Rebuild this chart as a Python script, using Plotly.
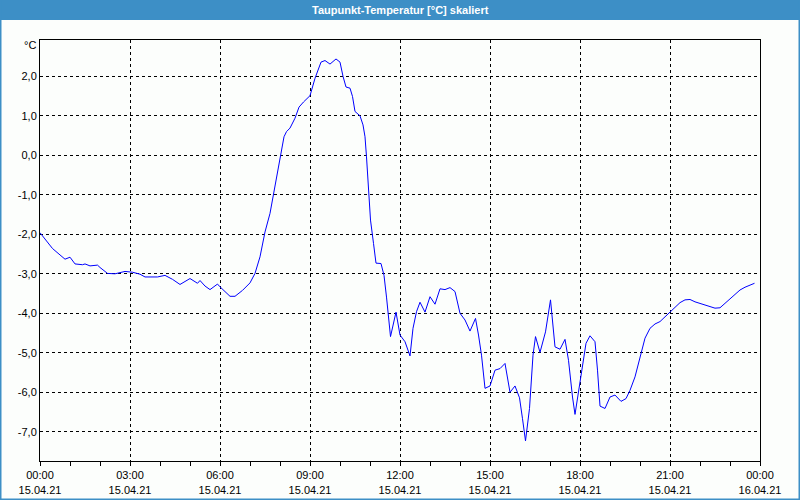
import pandas as pd
import plotly.graph_objects as go

# Taupunkt, 15.04.21 - minutes after midnight and value in degC
minutes = [0, 25, 50, 60, 70, 85, 90, 100, 115, 120, 135, 150, 170, 185, 200,
           210, 235, 250, 265, 280, 300, 315, 320, 330, 340, 355, 360, 380, 390,
           405, 420, 430, 440, 450, 460, 467, 475, 480, 488, 493, 500, 510, 518,
           527, 540, 550, 557, 562, 570, 580, 592, 600, 606, 612, 620, 625, 630,
           640, 646, 650, 653, 657, 661, 667, 672, 682, 688, 693, 701, 712, 720,
           730, 740, 746, 753, 760, 770, 780, 790, 800, 810, 820, 830, 840, 850,
           860, 871, 877, 883, 890, 900, 910, 920, 930, 935, 940, 950, 959, 965,
           971, 979, 986, 991, 1000, 1011, 1021, 1030, 1040,
           1050, 1057, 1065, 1070, 1076, 1083, 1092, 1100, 1110, 1115, 1120, 1130,
           1140, 1150, 1162, 1172, 1180, 1190, 1199, 1210, 1220, 1230, 1240, 1250,
           1260, 1270, 1280, 1290, 1300, 1310, 1320, 1330, 1340, 1350, 1360, 1370,
           1380, 1390, 1400, 1410, 1420, 1429]
dew_point = [-1.96, -2.36, -2.63, -2.58, -2.75, -2.77, -2.75, -2.80, -2.78, -2.84,
             -2.99, -3.00, -2.94, -2.96, -3.01, -3.08, -3.08, -3.04, -3.14, -3.27,
             -3.12, -3.24, -3.17, -3.31, -3.40, -3.26, -3.33, -3.57, -3.57,
             -3.42, -3.23, -2.99, -2.57, -1.94, -1.47, -0.96, -0.46, -0.04, 0.47,
             0.60, 0.69, 0.94, 1.22, 1.35, 1.51, 1.95, 2.21, 2.36, 2.40, 2.31, 2.44,
             2.36, 2.00, 1.73, 1.70, 1.49, 1.11, 1.00, 0.77, 0.47, -0.04, -0.88,
             -1.64, -2.23, -2.73, -2.74, -3.04, -3.59, -4.59, -3.97, -4.55,
             -4.72, -5.08, -4.38, -3.96, -3.72, -3.97, -3.58, -3.77, -3.38, -3.40,
             -3.35, -3.45, -4.00, -4.17, -4.45, -4.13, -4.55, -5.06, -5.90, -5.84,
             -5.44, -5.40, -5.27, -5.65, -6.00, -5.84, -6.14, -6.67, -7.23, -6.41,
             -5.06, -4.59, -4.99, -4.47, -3.66, -4.85, -4.91,
             -4.66, -5.19, -6.12, -6.56, -6.07, -5.44, -4.76, -4.57, -4.72, -5.44,
             -6.35, -6.41, -6.12, -6.07, -6.23, -6.16, -5.95, -5.61, -5.14, -4.63,
             -4.38, -4.27, -4.21, -4.09, -3.98, -3.87, -3.73, -3.66, -3.65, -3.71,
             -3.75, -3.79, -3.83, -3.87, -3.86, -3.75, -3.65, -3.54, -3.41, -3.34,
             -3.28, -3.24]

y_ticks = [2, 1, 0, -1, -2, -3, -4, -5, -6, -7]

start = pd.Timestamp("2021-04-15 00:00")
times = start + pd.to_timedelta(minutes, unit="min")
x_ticks = pd.date_range(start, start + pd.Timedelta(hours=24), freq="3h")
x_text = [t.strftime("%H:%M<br>%d.%m.%y") for t in x_ticks]
y_text = [f"{v:.1f}".replace(".", ",") for v in y_ticks]

bar_blue = "#3d8fc6"
font = "Liberation Sans"

fig = go.Figure(go.Scatter(x=times, y=dew_point, mode="lines",
                           line=dict(color="#0000ff", width=1)))

# plot area in px: x 40..760, y 40..461
px = lambda p: (p - 40) / 720
py = lambda p: (461 - p) / 421

fig.update_layout(
    width=800, height=500, autosize=False,
    margin=dict(l=40, r=40, t=40, b=39),
    paper_bgcolor="#fcfefc", plot_bgcolor="#fcfefc",
    showlegend=False,
    font=dict(family=font, size=11, color="black"),
    shapes=[
        dict(type="rect", xref="paper", yref="paper", x0=px(0), x1=px(800),
             y0=py(20), y1=py(0), fillcolor=bar_blue, line_width=0, layer="below"),
        dict(type="rect", xref="paper", yref="paper", x0=px(0.5), x1=px(799.5),
             y0=py(499.5), y1=py(0), line=dict(color=bar_blue, width=2)),
    ],
    annotations=[
        dict(text="<b>Taupunkt-Temperatur [°C] skaliert</b>", xref="paper", yref="paper",
             x=0.5, y=py(10), showarrow=False, xanchor="center", yanchor="middle",
             font=dict(color="white", size=11, family=font)),
        dict(text="°C", xref="paper", yref="paper", x=px(38), y=py(45),
             showarrow=False, xanchor="right", yanchor="middle",
             font=dict(size=11)),
    ],
)

fig.update_xaxes(
    range=[x_ticks[0], x_ticks[-1]], tickmode="array", tickvals=x_ticks, ticktext=x_text,
    ticks="outside", ticklen=4, tickcolor="black", automargin=False,
    showline=True, linecolor="black", linewidth=1, mirror=True,
    showgrid=True, gridcolor="black", gridwidth=1, griddash="3px,3px",
    zeroline=False,
    minor=dict(tick0=start, dtick=3600000, ticks="outside", ticklen=4,
               tickcolor="black", showgrid=False),
)
fig.update_yaxes(
    range=[-7.74, 2.92], tickmode="array", tickvals=y_ticks, ticktext=y_text,
    ticks="", automargin=False,
    showline=True, linecolor="black", linewidth=1, mirror=True,
    showgrid=True, gridcolor="black", gridwidth=1, griddash="3px,3px",
    zeroline=False,
)

fig.write_html("out.html", config={"displayModeBar": False},
               post_script="document.body.style.margin = '0';")
